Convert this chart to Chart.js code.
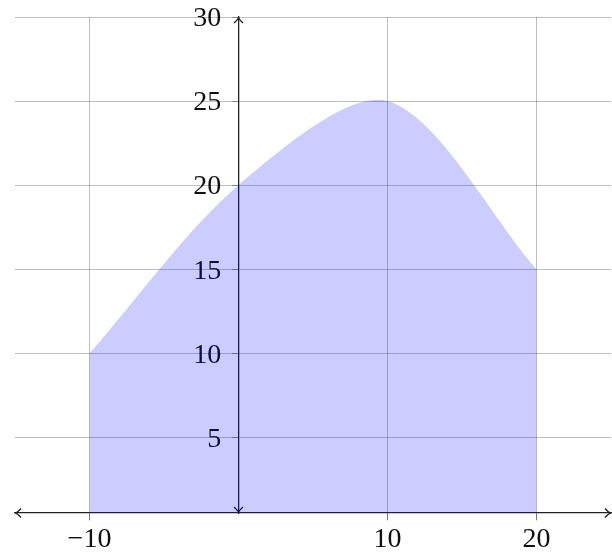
<!DOCTYPE html>
<html>
<head>
<meta charset="utf-8">
<script src="https://cdn.jsdelivr.net/npm/chart.js@4/dist/chart.umd.min.js"></script>
<style>
  html, body { margin: 0; padding: 0; background: #fff; }
  #wrap { width: 612px; height: 557px; }
</style>
</head>
<body>
<div id="wrap"><canvas id="areaChart"></canvas></div>
<script>
// Dữ liệu
const xValues = [-10, 0, 10, 20];
const yValues = [10, 20, 25, 15];
const xTicks = [-10, 10, 20];
const yTicks = [5, 10, 15, 20, 25, 30];
const xRange = [-15, 25];
const yRange = [0.5, 30];

// nhãn trục y nằm hơi lệch sang trái trục (đơn vị của trục x)
const yLabelX = -1.15;

const tickFont = { family: '"Liberation Serif", "DejaVu Serif", serif', size: 28 };
const gridColor = 'rgba(0, 0, 0, 0.25)';
const axisColor = '#222';

// mũi tên ở hai đầu mỗi trục
const axisArrows = {
    id: 'axisArrows',
    beforeDatasetsDraw(chart) {
        const { ctx, chartArea, scales } = chart;
        const x0 = scales.x.getPixelForValue(0);
        const y0 = scales.y.getPixelForValue(yRange[0]);
        const head = (tx, ty, dx, dy) => {
            const len = 6, half = 4.5;
            const px = -dy, py = dx;
            ctx.beginPath();
            ctx.moveTo(tx - dx * len + px * half, ty - dy * len + py * half);
            ctx.quadraticCurveTo(tx - dx * 2, ty - dy * 2, tx, ty);
            ctx.quadraticCurveTo(tx - dx * 2, ty - dy * 2, tx - dx * len - px * half, ty - dy * len - py * half);
            ctx.stroke();
        };
        ctx.save();
        ctx.strokeStyle = axisColor;
        ctx.lineWidth = 1.3;
        head(chartArea.left, y0, -1, 0);
        head(chartArea.right, y0, 1, 0);
        head(x0, chartArea.top, 0, -1);
        head(x0, y0, 0, 1);
        ctx.restore();
    }
};

new Chart(document.getElementById('areaChart'), {
    type: 'line',
    data: {
        datasets: [{
            data: xValues.map((x, i) => ({ x: x, y: yValues[i] })),
            backgroundColor: 'rgba(0, 0, 255, 0.2)',
            borderColor: 'rgba(0, 0, 0, 0)',
            borderWidth: 0,
            pointRadius: 0,
            tension: 0.3,
            fill: 'start'
        }]
    },
    options: {
        responsive: true,
        maintainAspectRatio: false,
        animation: false,
        layout: { padding: { left: 15, right: 1, top: 17, bottom: 44 } },
        plugins: { legend: { display: false }, tooltip: { enabled: false } },
        scales: {
            x: {
                type: 'linear',
                position: { y: yRange[0] },
                min: xRange[0],
                max: xRange[1],
                afterBuildTicks: s => { s.ticks = xTicks.map(v => ({ value: v })); },
                grid: { color: gridColor, tickColor: '#777', tickLength: 7 },
                border: { color: axisColor, width: 1.3 },
                ticks: {
                    font: tickFont,
                    color: '#111',
                    padding: 3,
                    maxRotation: 0,
                    callback: v => String(v).replace('-', '\u2212')
                }
            },
            y: {
                type: 'linear',
                position: { x: 0 },
                min: yRange[0],
                max: yRange[1],
                afterBuildTicks: s => { s.ticks = yTicks.map(v => ({ value: v })); },
                grid: { color: gridColor, tickColor: '#888', tickLength: 6 },
                border: { color: axisColor, width: 1.3 },
                ticks: { display: false, padding: 0 }
            },
            // chỉ dùng để vẽ nhãn trục y, cách trục một khoảng
            yLabels: {
                type: 'linear',
                axis: 'y',
                position: { x: yLabelX },
                min: yRange[0],
                max: yRange[1],
                afterBuildTicks: s => { s.ticks = yTicks.map(v => ({ value: v })); },
                grid: { display: false },
                border: { display: false },
                ticks: { font: tickFont, color: '#111', padding: 0, labelOffset: 2 }
            }
        }
    },
    plugins: [axisArrows]
});
</script>
</body>
</html>
